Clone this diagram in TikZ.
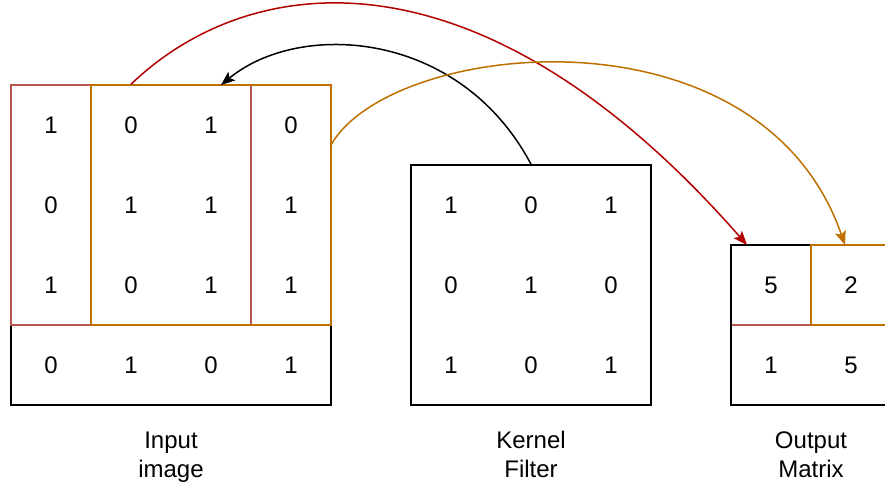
\documentclass[tikz,border=0pt]{standalone}
\usepackage{fontspec}
\setmainfont{Liberation Sans}
\usetikzlibrary{arrows.meta}
\definecolor{winred}{HTML}{B85450}
\definecolor{arrred}{HTML}{B20000}
\definecolor{winorange}{HTML}{BD7000}

\begin{document}
\begin{tikzpicture}[x=1pt,y=-1pt,
  box/.style={draw=#1,line width=1.5pt,fill=none,inner sep=0pt},
  digit/.style={font=\fontsize{24}{29}\selectfont},
  caption/.style={font=\fontsize{24}{29}\selectfont,align=center},
  link/.style={line width=1.5pt,-{Stealth[length=14pt,width=11pt,inset=3pt]}},
]
\useasboundingbox (0,0) rectangle (885,483);

% input image with the two 3x3 windows
\node[box=black,minimum width=320pt,minimum height=320pt] (inp) at (171,245) {};
\node[box=winred,minimum width=240pt,minimum height=240pt] (winA) at (131,205) {};
\node[box=winorange,minimum width=240pt,minimum height=240pt] (winB) at (211,205) {};

% kernel filter
\node[box=black,minimum width=240pt,minimum height=240pt] (ker) at (531,285) {};

% output matrix
\node[box=winred,minimum width=80pt,minimum height=80pt] (outA) at (771,285) {};
\node[box=black,minimum width=160pt,minimum height=160pt] (out) at (811,325) {};
\node[box=winorange,minimum width=80pt,minimum height=80pt] (outB) at (851,285) {};

% entries
\foreach \rowvals [count=\r] in {{1,0,1,0},{0,1,1,1},{1,0,1,1},{0,1,0,1}}
  \foreach \v [count=\c] in \rowvals
    \node[digit] (in-\r-\c) at ({80*\c-29},{80*\r+45}) {\v};
\foreach \rowvals [count=\r] in {{1,0,1},{0,1,0},{1,0,1}}
  \foreach \v [count=\c] in \rowvals
    \node[digit] (k-\r-\c) at ({80*\c+371},{80*\r+125}) {\v};
\foreach \rowvals [count=\r] in {{5,2},{1,5}}
  \foreach \v [count=\c] in \rowvals
    \node[digit] (o-\r-\c) at ({80*\c+691},{80*\r+205}) {\v};

% captions
\node[caption] (capIn) at (171,457) {Input\strut\\image\strut};
\node[caption] (capK) at (531,457) {Kernel\strut\\Filter\strut};
\node[caption] (capO) at (811,457) {Output\strut\\Matrix\strut};

% arrow end points
\coordinate (redEnd) at (747,245);
\coordinate (blackEnd) at (221,85);
\coordinate (orangeStart) at (331,145);
\coordinate (orangeEnd) at (845,245);

% connectors
\draw[link,arrred] (winA.north) .. controls (250,-30) and (480,-60) .. (redEnd);
\draw[link,black] (ker.north) .. controls (460,30) and (300,20) .. (blackEnd);
\draw[link,winorange] (orangeStart) .. controls (390,40) and (760,0) .. (orangeEnd);
\end{tikzpicture}
\end{document}
